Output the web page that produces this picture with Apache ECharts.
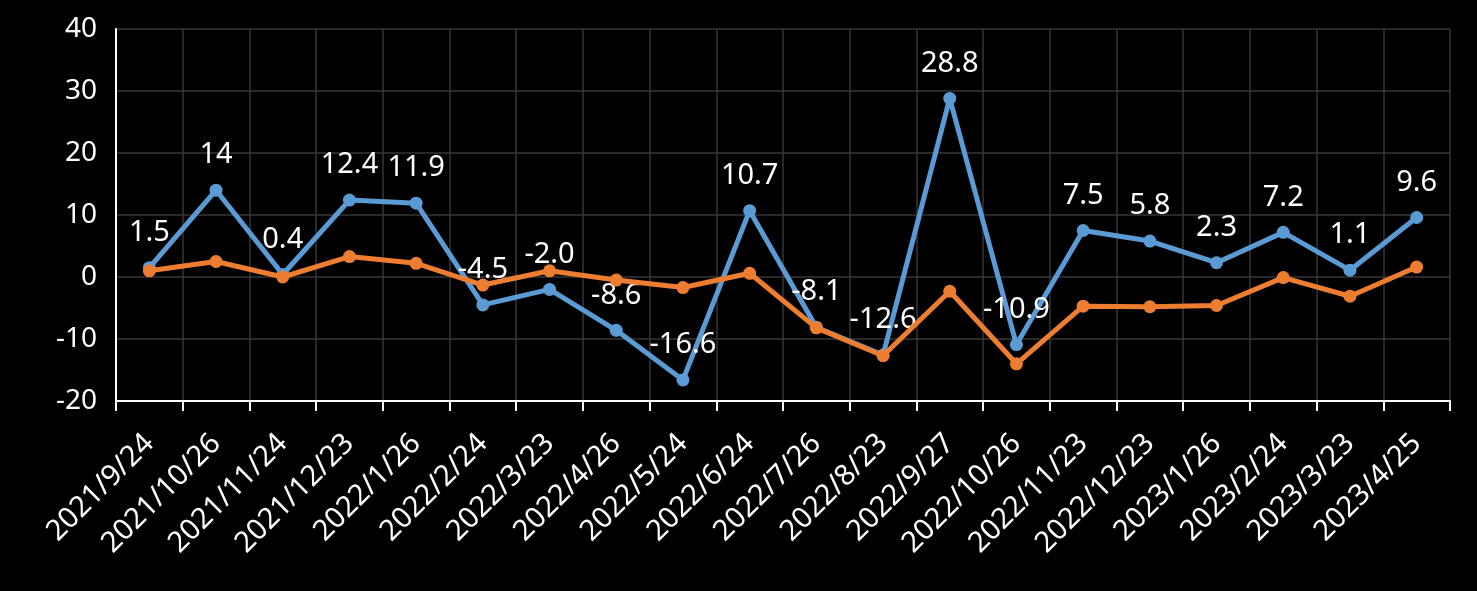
<!DOCTYPE html>
<html>
<head>
<meta charset="utf-8">
<script src="https://cdn.jsdelivr.net/npm/echarts@6/dist/echarts.min.js"></script>
<style>
html,body{margin:0;padding:0;background:#000;}
#chart{width:1477px;height:591px;}
</style>
</head>
<body>
<div id="chart"></div>
<script>
var categories = ['2021/9/24','2021/10/26','2021/11/24','2021/12/23','2022/1/26','2022/2/24','2022/3/23','2022/4/26','2022/5/24','2022/6/24','2022/7/26','2022/8/23','2022/9/27','2022/10/26','2022/11/23','2022/12/23','2023/1/26','2023/2/24','2023/3/23','2023/4/25'];
var blueValues = [1.5, 14, 0.4, 12.4, 11.9, -4.5, -2.0, -8.6, -16.6, 10.7, -8.1, -12.6, 28.8, -10.9, 7.5, 5.8, 2.3, 7.2, 1.1, 9.6];
var blueLabels = ['1.5','14','0.4','12.4','11.9','-4.5','-2.0','-8.6','-16.6','10.7','-8.1','-12.6','28.8','-10.9','7.5','5.8','2.3','7.2','1.1','9.6'];
var orangeValues = [1.0, 2.5, 0.0, 3.3, 2.2, -1.3, 1.0, -0.5, -1.7, 0.6, -8.2, -12.7, -2.3, -14.0, -4.7, -4.8, -4.6, -0.1, -3.1, 1.6];
var yTicks = [-20, -10, 0, 10, 20, 30, 40];

var FONT = '"Noto Sans", "Open Sans", sans-serif';
var chart = echarts.init(document.getElementById('chart'), null, {renderer:'canvas'});
chart.setOption({
  backgroundColor: '#000000',
  animation: false,
  grid: {left: 116, right: 27, top: 29, bottom: 190, containLabel: false},
  xAxis: {
    type: 'category',
    data: categories,
    boundaryGap: true,
    axisLine: {show: true, onZero: false, lineStyle: {color: '#ffffff', width: 2}},
    axisTick: {show: true, alignWithLabel: false, length: 10, lineStyle: {color: '#ffffff', width: 2}},
    splitLine: {show: true, lineStyle: {color: '#363636', width: 1.5}},
    axisLabel: {color: '#ffffff', fontSize: 29, fontFamily: FONT, rotate: 45, interval: 0, margin: 38}
  },
  yAxis: {
    type: 'value',
    min: yTicks[0],
    max: yTicks[yTicks.length - 1],
    interval: 10,
    axisLine: {show: true, lineStyle: {color: '#ffffff', width: 2}},
    axisTick: {show: false},
    splitLine: {show: true, lineStyle: {color: '#363636', width: 1.5}},
    axisLabel: {color: '#ffffff', fontSize: 28, fontFamily: FONT, margin: 19}
  },
  series: [
    {
      name: 'blue',
      type: 'line',
      data: blueValues,
      symbol: 'circle',
      symbolSize: 13,
      lineStyle: {color: '#5B9BD5', width: 5},
      itemStyle: {color: '#5B9BD5'},
      label: {
        show: true, position: 'top', distance: 14,
        color: '#ffffff', fontSize: 29, fontFamily: FONT,
        formatter: function (p) { return blueLabels[p.dataIndex]; }
      },
      z: 2
    },
    {
      name: 'orange',
      type: 'line',
      data: orangeValues,
      symbol: 'circle',
      symbolSize: 13,
      lineStyle: {color: '#ED7D31', width: 5},
      itemStyle: {color: '#ED7D31'},
      z: 3
    }
  ]
});
</script>
</body>
</html>
